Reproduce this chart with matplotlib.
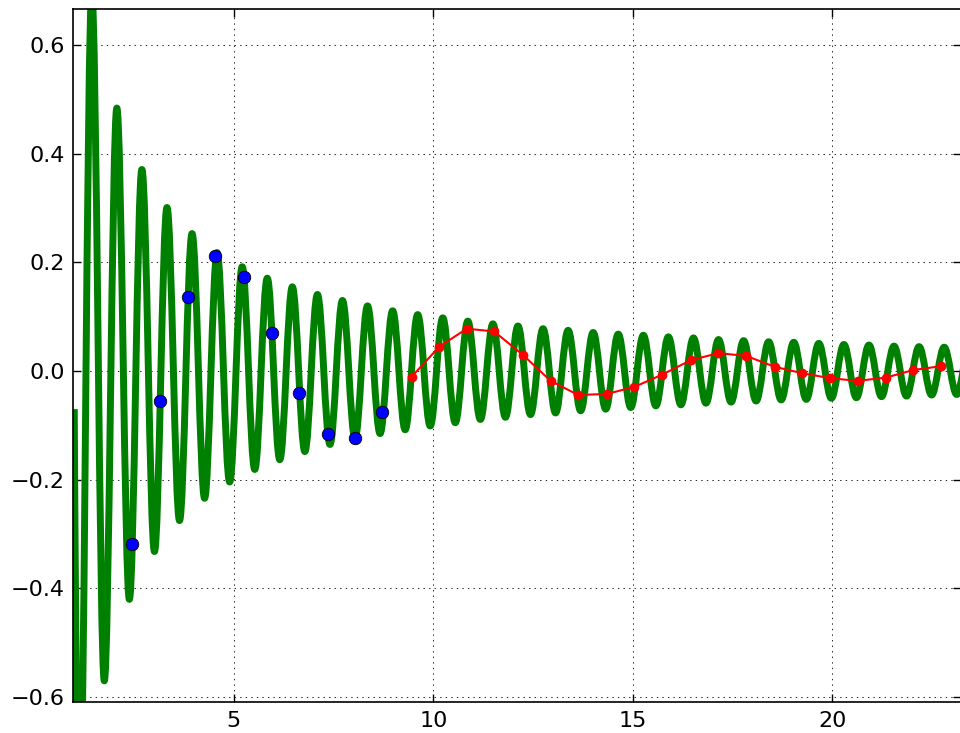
import numpy as np
import matplotlib
matplotlib.use('Agg')
import matplotlib.pyplot as plt
from matplotlib.path import Path
from matplotlib.patches import PathPatch

plt.rcParams['lines.scale_dashes'] = False
plt.rcParams['font.size'] = 16

# green curve: start point, then peaks and troughs
start_x, start_y = 1.0, -0.07
ext_x = [1.124, 1.439, 1.753, 2.067, 2.381, 2.695, 3.010, 3.324, 3.638,
         3.952, 4.266, 4.580, 4.894, 5.209, 5.523, 5.837, 6.151, 6.465, 6.779,
         7.094, 7.408, 7.722, 8.036, 8.350, 8.664, 8.979, 9.293, 9.607, 9.921,
         10.235, 10.549, 10.863, 11.178, 11.492, 11.806, 12.120, 12.434, 12.748, 13.063,
         13.377, 13.691, 14.005, 14.319, 14.633, 14.947, 15.262, 15.576, 15.890, 16.204,
         16.518, 16.832, 17.147, 17.461, 17.775, 18.089, 18.403, 18.717, 19.032, 19.346,
         19.660, 19.974, 20.288, 20.602, 20.917, 21.231, 21.545, 21.859, 22.173, 22.487,
         22.802, 23.116, 23.430]
ext_y = [-0.89, 0.695, -0.570, 0.484, -0.420, 0.371, -0.332, 0.301, -0.275,
         0.253, -0.234, 0.218, -0.204, 0.192, -0.181, 0.171, -0.163, 0.155, -0.148,
         0.141, -0.135, 0.130, -0.124, 0.120, -0.115, 0.111, -0.108, 0.104, -0.101,
         0.098, -0.095, 0.092, -0.089, 0.087, -0.085, 0.083, -0.080, 0.078, -0.077,
         0.075, -0.073, 0.071, -0.070, 0.068, -0.067, 0.066, -0.064, 0.063, -0.062,
         0.061, -0.059, 0.058, -0.057, 0.056, -0.055, 0.054, -0.053, 0.053, -0.052,
         0.051, -0.050, 0.049, -0.049, 0.048, -0.047, 0.046, -0.046, 0.045, -0.044,
         0.044, -0.043, 0.043]

# blue samples
blue_x = [2.44, 3.15, 3.844, 4.529, 5.256, 5.949, 6.634, 7.353, 8.038, 8.722]
blue_y = [-0.319, -0.055, 0.137, 0.212, 0.174, 0.070, -0.041, -0.116, -0.124, -0.076]

# red samples
red_x = [9.459, 10.150, 10.837, 11.521, 12.24, 12.94, 13.63, 14.35, 15.04, 15.72,
         16.45, 17.14, 17.84, 18.55, 19.25, 19.94, 20.63, 21.34, 22.03, 22.72]
red_y = [-0.010, 0.045, 0.078, 0.073, 0.030, -0.018, -0.044, -0.042, -0.029, -0.007,
         0.020, 0.033, 0.028, 0.008, -0.004, -0.013, -0.018, -0.012, 0.002, 0.009]

fig = plt.figure(figsize=(9.6, 7.33), dpi=100)
ax = fig.add_axes([0.0764, 0.0419, 0.9247, 0.9454])

# smooth wave: first piece runs down from the start point,
# the rest joins the extrema with horizontal tangents
c = 0.3634
verts = [(start_x, start_y)]
codes = [Path.MOVETO]
dx = ext_x[0] - start_x
verts += [(start_x + 0.3 * dx, start_y + 0.6 * (ext_y[0] - start_y)),
          (ext_x[0] - 0.3 * dx, ext_y[0]), (ext_x[0], ext_y[0])]
codes += [Path.CURVE4] * 3
for i in range(1, len(ext_x)):
    x0, y0 = ext_x[i - 1], ext_y[i - 1]
    x1, y1 = ext_x[i], ext_y[i]
    d = (x1 - x0) * c
    verts += [(x0 + d, y0), (x1 - d, y1), (x1, y1)]
    codes += [Path.CURVE4] * 3
wave = PathPatch(Path(verts, codes), fill=False, edgecolor=(0, 0.5, 0),
                 lw=5, joinstyle='round', capstyle='butt', zorder=2)
ax.add_patch(wave)

ax.plot(blue_x, blue_y, 'o', color='b', ms=9, mec='k', mew=0.6, zorder=3)
ax.plot(red_x, red_y, '-o', color='r', lw=1.5, ms=6, mec='r', zorder=4)

ax.set_xlim(0.977, 23.225)
ax.set_ylim(-0.6094, 0.6657)
ax.set_xticks([5, 10, 15, 20])
ax.set_yticks([-0.6, -0.4, -0.2, 0.0, 0.2, 0.4, 0.6])
ax.grid(True, color='k', linestyle=(0, (1, 3)), linewidth=0.6)
ax.tick_params(direction='in', top=True, right=True, length=6, width=1, pad=6)
for s in ax.spines.values():
    s.set_linewidth(1.2)

fig.savefig('out.png', dpi=100)
